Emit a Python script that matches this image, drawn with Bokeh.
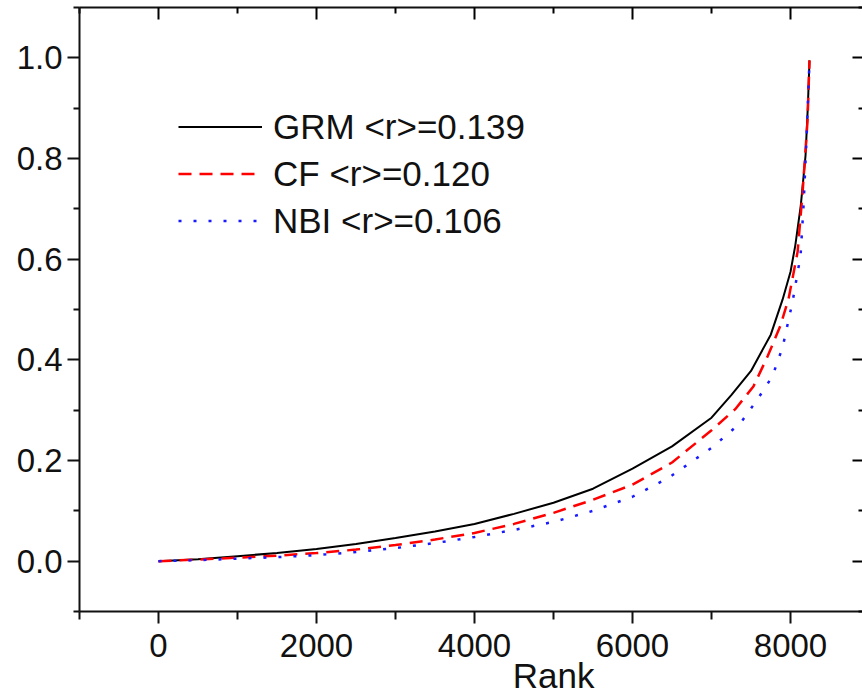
from bokeh.plotting import figure
from bokeh.models import (Range1d, LinearAxis, FixedTicker, NumeralTickFormatter,
                          Legend, LegendItem, CustomJSTickFormatter)
from bokeh.embed import file_html
from bokeh.resources import INLINE

# ---- data ----
grm_rank = [0, 500, 1000, 1500, 2000, 2500, 3000, 3500, 4000, 4500, 5000, 5500, 6000,
            6500, 7000, 7250, 7500, 7750, 7900, 8000, 8060, 8130, 8190, 8220, 8240]
grm_val = [0.0, 0.004, 0.010, 0.016, 0.024, 0.034, 0.046, 0.059, 0.074, 0.094, 0.116,
           0.144, 0.184, 0.228, 0.285, 0.330, 0.378, 0.450, 0.520, 0.575, 0.627, 0.707,
           0.806, 0.906, 0.995]

cf_rank = [0, 500, 1000, 1500, 2000, 2500, 3000, 3500, 4000, 4500, 5000, 5500, 6000,
           6500, 7000, 7300, 7530, 7710, 7870, 7975, 8090, 8150, 8215, 8240]
cf_val = [0.0, 0.003, 0.007, 0.011, 0.016, 0.023, 0.032, 0.043, 0.056, 0.074, 0.096,
          0.122, 0.152, 0.196, 0.260, 0.302, 0.347, 0.407, 0.467, 0.521, 0.615, 0.727,
          0.874, 0.995]

nbi_rank = [0, 500, 1000, 1500, 2000, 2500, 3000, 3500, 4000, 4500, 5000, 5500, 6000,
            6450, 7000, 7370, 7580, 7770, 7900, 8025, 8127, 8165, 8203, 8240]
nbi_val = [0.0, 0.002, 0.005, 0.008, 0.012, 0.018, 0.026, 0.036, 0.048, 0.062, 0.078,
           0.100, 0.128, 0.165, 0.225, 0.275, 0.321, 0.367, 0.425, 0.515, 0.607, 0.707,
           0.840, 0.995]

series_labels = ["GRM <r>=0.139", "CF <r>=0.120", "NBI <r>=0.106"]
x_major = [0, 2000, 4000, 6000, 8000]
x_minor = [-1000, 1000, 3000, 5000, 7000, 9000]
y_major = [0.0, 0.2, 0.4, 0.6, 0.8, 1.0]
y_minor = [-0.1, 0.1, 0.3, 0.5, 0.7, 0.9, 1.1]
x_title = "Rank"

FONT = "Liberation Sans"
TXT = "#111111"

p = figure(width=862, height=700, output_backend="svg", toolbar_location=None,
           x_range=Range1d(-1000, 8911), y_range=Range1d(-0.1, 1.1),
           min_border_left=79, min_border_right=0, min_border_top=7, min_border_bottom=89)
p.outline_line_color = None
p.grid.visible = False
p.background_fill_color = "white"
p.border_fill_color = "white"

# main axes
xa = p.xaxis[0]
xa.ticker = FixedTicker(ticks=x_major, minor_ticks=x_minor)
xa.formatter = NumeralTickFormatter(format="0")
ya = p.yaxis[0]
ya.ticker = FixedTicker(ticks=y_major, minor_ticks=y_minor)
ya.formatter = NumeralTickFormatter(format="0.0")
for ax in (xa, ya):
    ax.axis_line_width = 2
    ax.axis_line_color = "#111111"
    ax.major_tick_line_width = 2
    ax.minor_tick_line_width = 2
    ax.major_tick_line_color = "#111111"
    ax.minor_tick_line_color = "#111111"
    ax.major_tick_in = 0
    ax.major_tick_out = 12
    ax.minor_tick_in = 0
    ax.minor_tick_out = 6
    ax.major_label_text_font = FONT
    ax.major_label_text_font_size = "33px"
    ax.major_label_text_color = TXT
xa.major_label_standoff = 10
xa.minor_tick_out = 8
ya.major_label_standoff = 5

# x title, shifted right (as in the reference) by leading no-break spaces
xa.axis_label = "\u00a0" * 17 + x_title
xa.axis_label_text_font = FONT
xa.axis_label_text_font_size = "35px"
xa.axis_label_text_font_style = "normal"
xa.axis_label_text_color = TXT
xa.axis_label_standoff = -4

blank = CustomJSTickFormatter(code="return ''")
top = LinearAxis(ticker=FixedTicker(ticks=x_major, minor_ticks=x_minor), formatter=blank,
                 axis_line_width=2, axis_line_color="#111111",
                 major_tick_line_width=2, minor_tick_line_width=2,
                 major_tick_in=12, major_tick_out=0, minor_tick_in=6, minor_tick_out=0,
                 major_label_text_font_size="0px", major_label_standoff=0)
p.add_layout(top, "above")
right = LinearAxis(ticker=FixedTicker(ticks=y_major, minor_ticks=y_minor), formatter=blank,
                   axis_line_color=None,
                   major_tick_line_width=2, minor_tick_line_width=2,
                   major_tick_in=10, major_tick_out=0, minor_tick_in=4, minor_tick_out=0,
                   major_label_text_font_size="0px", major_label_standoff=0)
p.add_layout(right, "right")

r1 = p.line(grm_rank, grm_val, line_color="black", line_width=2)
r2 = p.line(cf_rank, cf_val, line_color="#ff0000", line_width=2.5, line_dash="13 8")
r3 = p.line(nbi_rank, nbi_val, line_color="#1a1aff", line_width=2.5, line_dash="3 12")

legend = Legend(items=[LegendItem(label=series_labels[0], renderers=[r1]),
                       LegendItem(label=series_labels[1], renderers=[r2]),
                       LegendItem(label=series_labels[2], renderers=[r3])],
                location=(99, 367), orientation="vertical",
                glyph_width=84, glyph_height=47, label_height=47, label_standoff=11,
                spacing=0, padding=0, margin=0,
                label_text_font=FONT, label_text_font_size="35px", label_text_color=TXT,
                border_line_color=None, background_fill_alpha=0)
p.add_layout(legend, "center")

open("out.html", "w").write(file_html(p, INLINE))
